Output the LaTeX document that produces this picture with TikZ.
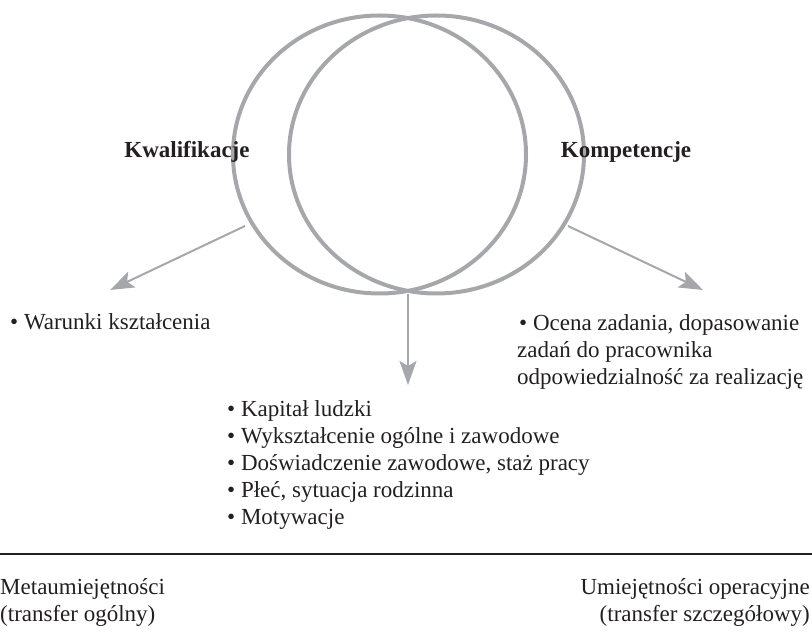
\documentclass[tikz,border=0pt]{standalone}
\usepackage{fontspec}
\setmainfont{Liberation Serif}
\usetikzlibrary{arrows.meta}
\definecolor{ringgray}{RGB}{166,167,171}
\definecolor{inkc}{RGB}{35,31,32}
\tikzset{
  ring/.style={draw=ringgray, line width=4pt},
  arr/.style={draw=ringgray, line width=2pt, -{Stealth[length=24pt,width=17pt,inset=5pt]}},
  txt/.style={anchor=mid west, inner sep=0pt, font=\fontsize{23}{29}\selectfont, text=inkc},
  rtxt/.style={anchor=mid east, inner sep=0pt, font=\fontsize{23}{29}\selectfont, text=inkc},
  head/.style={anchor=mid, inner sep=0pt, font=\fontsize{23}{29}\selectfont\bfseries, text=inkc},
}
\begin{document}
\begin{tikzpicture}[x=1pt,y=-1pt]
\useasboundingbox (0,0) rectangle (812,636);
\draw[ring] (379.5,154.5) ellipse [x radius=146.5pt, y radius=139pt];
\draw[ring] (436.5,154.5) ellipse [x radius=147.5pt, y radius=139pt];
\node[head] (kw) at (187,155) {Kwalifikacje};
\node[head] (ko) at (626,155) {Kompetencje};
\coordinate (s1) at (245,226);
\coordinate (t1) at (110,290);
\coordinate (s2) at (408,294);
\coordinate (t2) at (408,385);
\coordinate (s3) at (568,226);
\coordinate (t3) at (703,290);
\draw[arr] (s1) -- (t1);
\draw[arr] (s2) -- (t2);
\draw[arr] (s3) -- (t3);
\node[txt] (war) at (10,327) {• Warunki kształcenia};
\node[txt] (oc1) at (519,328) {• Ocena zadania, dopasowanie};
\node[txt] (oc2) at (517,355) {zadań do pracownika};
\node[txt] (oc3) at (517,382) {odpowiedzialność za realizację};
\node[txt] (m1) at (227,414) {• Kapitał ludzki};
\node[txt] (m2) at (227,441) {• Wykształcenie ogólne i zawodowe};
\node[txt] (m3) at (227,468) {• Doświadczenie zawodowe, staż pracy};
\node[txt] (m4) at (227,495) {• Płeć, sytuacja rodzinna};
\node[txt] (m5) at (227,522) {• Motywacje};
\coordinate (hl) at (0,554);
\coordinate (hr) at (812,554);
\draw[line width=1.3pt, inkc] (hl) -- (hr);
\node[txt] (b1) at (0,592) {Metaumiejętności};
\node[txt] (b2) at (0,619) {(transfer ogólny)};
\node[rtxt] (b3) at (810,592) {Umiejętności operacyjne};
\node[rtxt] (b4) at (810,619) {(transfer szczegółowy)};
\end{tikzpicture}
\end{document}
